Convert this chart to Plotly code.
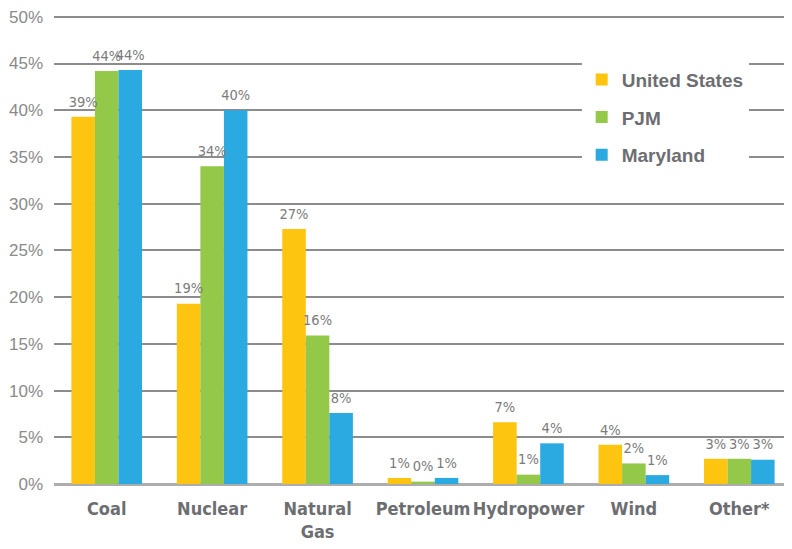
import plotly.graph_objects as go

categories = ["Coal", "Nuclear", "Natural<br>Gas", "Petroleum", "Hydropower", "Wind", "Other*"]
us_values = [39.3, 19.3, 27.3, 0.65, 6.6, 4.2, 2.7]
pjm_values = [44.2, 34.0, 15.9, 0.25, 1.0, 2.2, 2.7]
md_values = [44.3, 40.0, 7.6, 0.65, 4.35, 0.95, 2.6]
series_names = ["United States", "PJM", "Maryland"]
series_colors = ["#FDC510", "#93C848", "#2AAAE1"]
y_ticks = [0, 5, 10, 15, 20, 25, 30, 35, 40, 45, 50]

COND = "DejaVu Sans Condensed, DejaVu Sans, sans-serif"
GAP = 0.33

fig = go.Figure()
for name, vals, col in zip(series_names, [us_values, pjm_values, md_values], series_colors):
    fig.add_trace(go.Bar(
        name=name, x=categories, y=vals,
        marker=dict(color=col, line=dict(width=0)),
        legendgroup=name,
    ))
# value labels, grouped like the bars, floating a little above each bar top
for name, vals in zip(series_names, [us_values, pjm_values, md_values]):
    fig.add_trace(go.Scatter(
        x=categories, y=vals, mode="markers+text",
        text=[f"{v:.0f}%" for v in vals], textposition="top center",
        textfont=dict(family=COND, size=14.5, color="#7b7b7b"),
        marker=dict(size=9, opacity=0), cliponaxis=False,
        showlegend=False, hoverinfo="skip", legendgroup=name,
    ))

# page body has an 8px margin, so the figure is sized 8px smaller to fill the window
fig.update_layout(
    width=784, height=541,
    margin=dict(l=46, r=0, t=6, b=65, autoexpand=False),
    paper_bgcolor="white", plot_bgcolor="white",
    barmode="group", bargap=GAP, bargroupgap=0,
    scattermode="group", scattergap=GAP,
    legend=dict(
        x=0.715, y=0.901, xanchor="left", yanchor="top",
        bgcolor="white", borderwidth=0,
        font=dict(family="Liberation Sans, Arial, sans-serif", size=19, color="#6d6e71", weight="bold"),
        tracegroupgap=10, itemwidth=30,
    ),
    xaxis=dict(
        showgrid=False, showline=False, ticks="", tickangle=0, automargin=False,
        tickfont=dict(family=COND, size=18, color="#6d6e71", weight="bold"),
        ticklabelstandoff=12,
    ),
    yaxis=dict(
        range=[0, 50.3], tickvals=y_ticks, ticktext=[f"{t}%" for t in y_ticks],
        showgrid=True, gridcolor="#8c8c8c", gridwidth=1.5, automargin=False,
        zeroline=True, zerolinecolor="#adadad", zerolinewidth=3,
        showline=False, ticks="", ticklabeloverflow="allow",
        tickfont=dict(family="Liberation Sans, Arial, sans-serif", size=17, color="#8a8a8a"),
        ticklabelstandoff=10,
    ),
)

fig.write_html("out.html")
